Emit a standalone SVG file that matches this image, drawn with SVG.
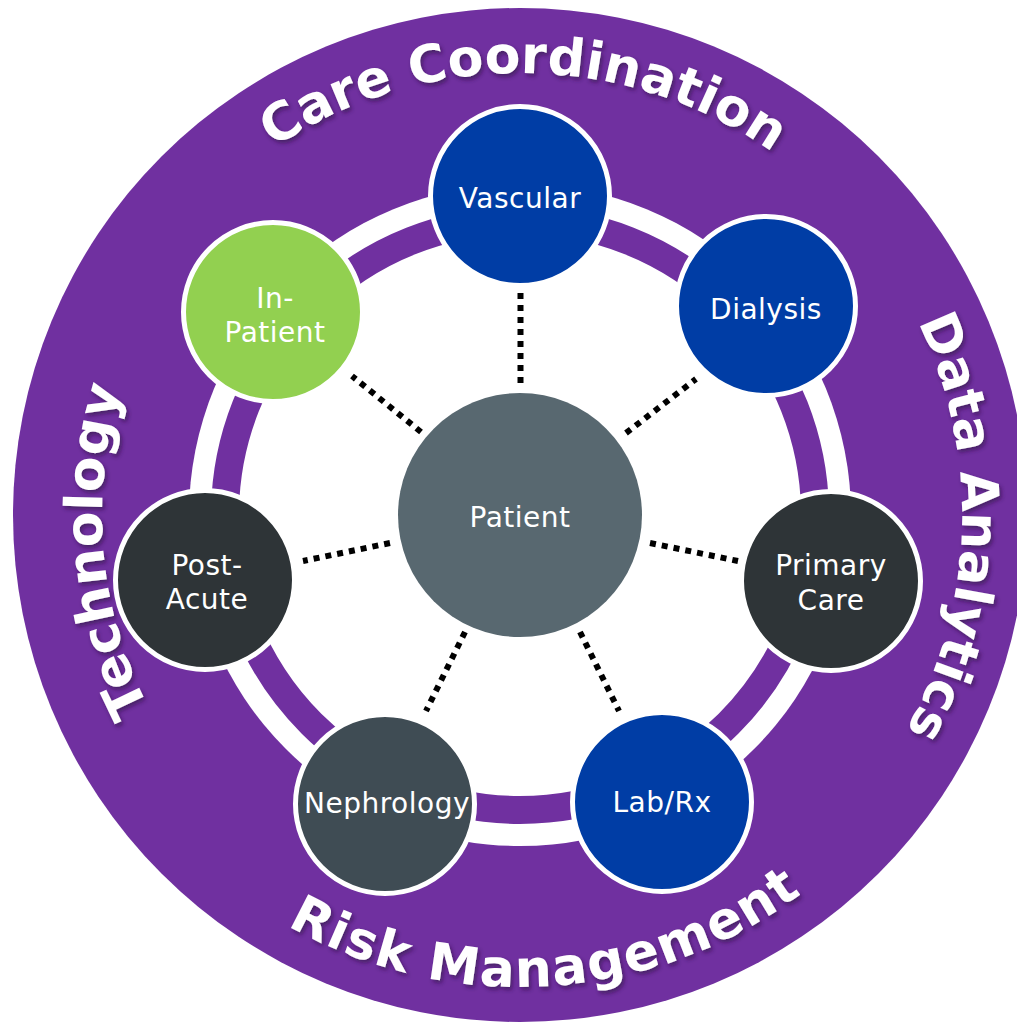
<svg xmlns="http://www.w3.org/2000/svg" xmlns:xlink="http://www.w3.org/1999/xlink" width="1017" height="1024" viewBox="0 0 1017 1024">
  <defs>
    <style>
      .ring-text { font-family: "DejaVu Sans", "Liberation Sans", sans-serif; font-weight: bold; font-size: 52px; fill: #FFFFFF; }
      .node-text { font-family: "DejaVu Sans", "Liberation Sans", sans-serif; font-size: 28px; fill: #FFFFFF; text-anchor: middle; letter-spacing: 0.5px; }
      .node { stroke: #FFFFFF; stroke-width: 5; }
      .blue { fill: #003DA5; }
      .green { fill: #92D050; }
      .dark { fill: #2E3437; }
      .slate { fill: #3F4C54; }
      .conn { stroke: #000000; stroke-width: 6; stroke-dasharray: 6 6; fill: none; }
    </style>
    <filter id="shadow" x="-10%" y="-10%" width="120%" height="120%">
      <feDropShadow dx="2" dy="3" stdDeviation="2" flood-color="#2A0A40" flood-opacity="0.6"/>
    </filter>
    <!-- clockwise circle r=442 starting at angle -180 -->
    <path id="arcTR" d="M 78 515 A 442 442 0 1 1 962 515 A 442 442 0 1 1 78 515"/>
    <!-- clockwise circle r=418 starting at angle 0 -->
    <path id="arcL" d="M 938 515 A 418 418 0 1 1 102 515 A 418 418 0 1 1 938 515"/>
    <!-- counter-clockwise half circle r=472 from left via bottom to right -->
    <path id="arcB" d="M 48 515 A 472 472 0 0 0 992 515"/>
  </defs>

  <g id="background">
    <circle cx="520" cy="515" r="507" fill="#7030A0"/>
    <circle cx="520" cy="515" r="331" fill="#FFFFFF"/>
    <circle cx="520" cy="515" r="295" fill="none" stroke="#7030A0" stroke-width="28"/>
  </g>

  <g id="ring-labels" filter="url(#shadow)">
    <text class="ring-text" text-anchor="middle"><textPath xlink:href="#arcTR" href="#arcTR" startOffset="698">Care Coordination</textPath></text>
    <text class="ring-text" text-anchor="middle"><textPath xlink:href="#arcTR" href="#arcTR" startOffset="1401">Data Analytics</textPath></text>
    <text class="ring-text" text-anchor="middle"><textPath xlink:href="#arcL" href="#arcL" startOffset="1277">Technology</textPath></text>
    <text class="ring-text" text-anchor="middle" letter-spacing="1.5"><textPath xlink:href="#arcB" href="#arcB" startOffset="771">Risk Management</textPath></text>
  </g>

  <g id="connectors">
    <line class="conn" x1="520.5" y1="383" x2="520.5" y2="293"/>
    <line class="conn" x1="626" y1="433" x2="696" y2="379"/>
    <line class="conn" x1="650" y1="543" x2="738" y2="561"/>
    <line class="conn" x1="580" y1="632" x2="619" y2="711"/>
    <line class="conn" x1="465" y1="632" x2="426" y2="711"/>
    <line class="conn" x1="390" y1="543" x2="303" y2="561"/>
    <line class="conn" x1="421" y1="432" x2="352" y2="376"/>
  </g>

  <g id="patient">
    <circle cx="520" cy="515" r="122" fill="#586870"/>
    <text class="node-text" x="520" y="527">Patient</text>
  </g>

  <g id="vascular">
    <circle class="node blue" cx="520" cy="196" r="89.5"/>
    <text class="node-text" x="520" y="208">Vascular</text>
  </g>

  <g id="dialysis">
    <circle class="node blue" cx="766" cy="306" r="89.5"/>
    <text class="node-text" x="766" y="319">Dialysis</text>
  </g>

  <g id="primary-care">
    <circle class="node dark" cx="831" cy="581" r="89.5"/>
    <text class="node-text" x="831" y="575">Primary</text>
    <text class="node-text" x="831" y="610">Care</text>
  </g>

  <g id="lab-rx">
    <circle class="node blue" cx="662" cy="802" r="89.5"/>
    <text class="node-text" x="662" y="812">Lab/Rx</text>
  </g>

  <g id="nephrology">
    <circle class="node slate" cx="385" cy="804" r="89.5"/>
    <text class="node-text" x="387" y="813">Nephrology</text>
  </g>

  <g id="post-acute">
    <circle class="node dark" cx="205" cy="580" r="89.5"/>
    <text class="node-text" x="207" y="575">Post-</text>
    <text class="node-text" x="207" y="609">Acute</text>
  </g>

  <g id="in-patient">
    <circle class="node green" cx="273" cy="312" r="89.5"/>
    <text class="node-text" x="275" y="308">In-</text>
    <text class="node-text" x="275" y="342">Patient</text>
  </g>
</svg>
